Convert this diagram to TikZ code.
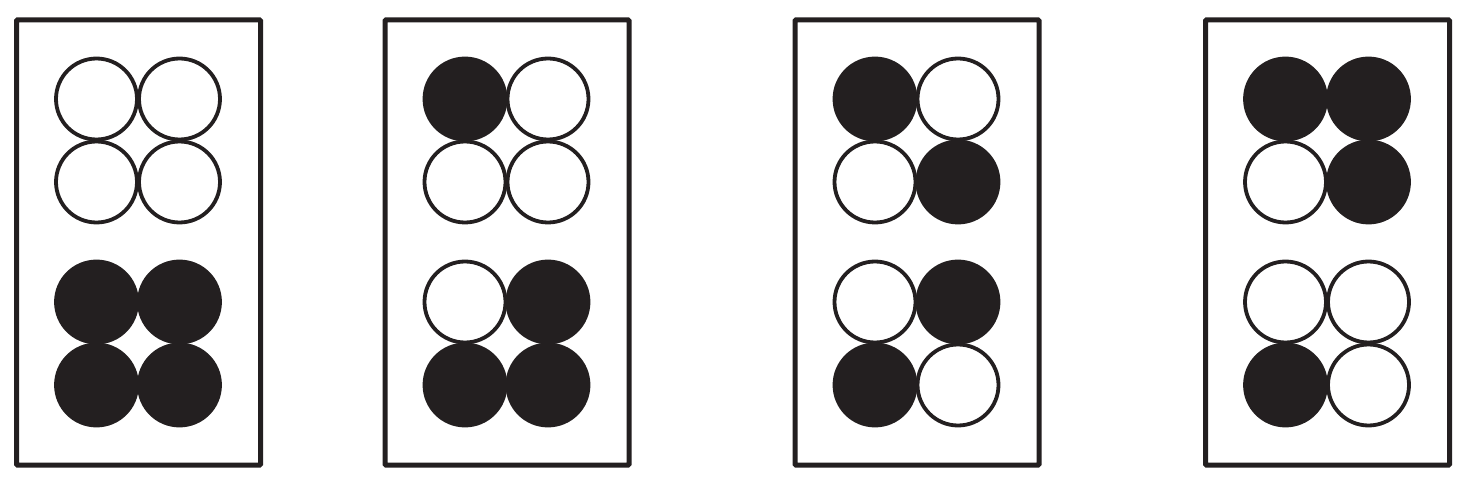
\documentclass[tikz,border=0pt]{standalone}
\definecolor{ink}{HTML}{231F20}
\tikzset{
  panel/.style={draw=ink, line width=5pt, rounded corners=1pt, outer sep=0pt},
  dotopen/.style={circle, draw=ink, line width=3.8pt, fill=white, minimum size=81pt, inner sep=0pt},
  dotfull/.style={circle, draw=ink, line width=3.8pt, fill=ink, minimum size=81pt, inner sep=0pt}
}
\begin{document}
\begin{tikzpicture}[x=1pt,y=-1pt]
\useasboundingbox (0,0) rectangle (1470,478);
% panels: left x, list of 8 states (top TL TR BL BR, bottom TL TR BL BR)
\foreach \i/\xl/\s in {1/16.5/{open,open,open,open,full,full,full,full},
                      2/385/{full,open,open,open,open,full,full,full},
                      3/795/{full,open,open,full,open,full,full,open},
                      4/1205.5/{full,full,open,full,open,open,full,open}}{
  \node[panel, minimum width=244pt, minimum height=445pt, inner sep=0pt, anchor=north west] (box\i) at (\xl,20) {};
  \foreach \st [count=\k] in \s {
    \pgfmathtruncatemacro{\col}{mod(\k-1,2)}
    \pgfmathtruncatemacro{\row}{div(\k-1,2)}
    \pgfmathsetmacro{\cx}{\xl+80+83*\col}
    \pgfmathsetmacro{\cy}{\row<2 ? 99+83*\row : 302+83*(\row-2)}
    \node[dot\st] (c\i-\k) at (\cx,\cy) {};
  }
}
\end{tikzpicture}
\end{document}
